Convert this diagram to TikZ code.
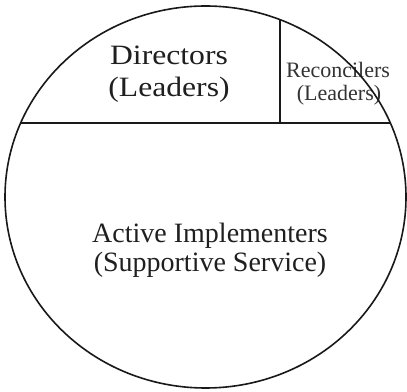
\documentclass[tikz,border=0pt]{standalone}
\usepackage{fontspec}
\setmainfont{Liberation Serif}
\begin{document}
\begin{tikzpicture}[x=1pt,y=1pt,
  outline/.style={line width=1.6pt,draw=black!90},
  bigtxt/.style={anchor=base,inner sep=0pt,text=black!88,font=\fontsize{28}{32}\selectfont},
  smalltxt/.style={anchor=base,inner sep=0pt,text=black!80,font=\fontsize{22}{24}\selectfont}]
\useasboundingbox (0,0) rectangle (407,391);
\fill[white] (0,0) rectangle (407,391);
% text
\node[bigtxt] (dir1) at (169,326) {\scalebox{1.13}[1]{Directors}};
\node[bigtxt] (dir2) at (169,294) {\scalebox{1.13}[1]{(Leaders)}};
\node[smalltxt] (rec1) at (338,313) {Reconcilers};
\node[smalltxt] (rec2) at (339,290) {(Leaders)};
\node[bigtxt] (act1) at (210,148) {Active Implementers};
\node[bigtxt] (act2) at (210,119) {(Supportive Service)};
% dividing lines clipped by the ellipse
\begin{scope}
  \clip (205.5,194) ellipse [x radius=200.5, y radius=191];
  \draw[outline] (0,268) -- (407,268);
  \draw[outline] (280,268) -- (280,391);
\end{scope}
\draw[outline] (205.5,194) ellipse [x radius=200.5, y radius=191];
\end{tikzpicture}
\end{document}
